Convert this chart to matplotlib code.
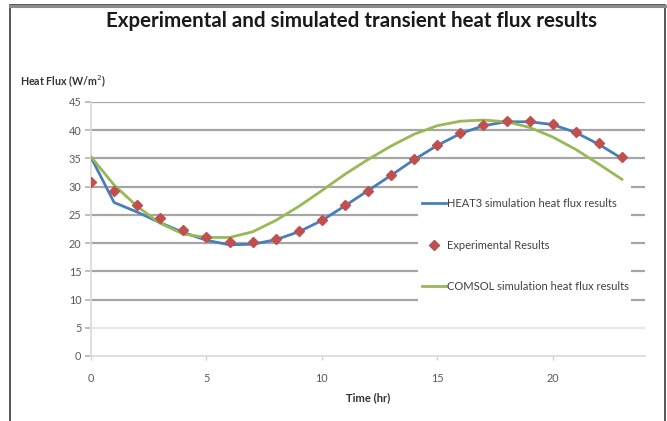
import matplotlib
matplotlib.use('Agg')
import matplotlib.pyplot as plt
from matplotlib.patches import Rectangle

plt.rcParams['font.family'] = ['Lato', 'DejaVu Sans']

hours = list(range(24))
heat3 = [35.2, 27.2, 25.5, 23.6, 21.9, 20.5, 19.7, 19.8, 20.6, 22.0, 24.0, 26.6,
         29.3, 32.0, 34.8, 37.3, 39.4, 40.8, 41.5, 41.5, 41.0, 39.6, 37.5, 35.0]
experimental = [30.8, 29.2, 26.8, 24.4, 22.4, 21.0, 20.2, 20.2, 20.8, 22.2, 24.1, 26.7,
                29.3, 32.1, 34.9, 37.4, 39.5, 40.9, 41.7, 41.7, 41.1, 39.7, 37.7, 35.3]
comsol = [35.3, 30.3, 26.5, 23.5, 21.6, 21.0, 21.0, 22.0, 24.0, 26.5, 29.3, 32.2,
          34.8, 37.2, 39.3, 40.8, 41.6, 41.8, 41.5, 40.5, 38.8, 36.6, 34.0, 31.3]

fig = plt.figure(figsize=(6.67, 4.21), dpi=100)
ax = fig.add_axes([91 / 667, 65 / 421, 554 / 667, 254 / 421])

# outer frame of the chart area
fig.add_artist(Rectangle((10 / 667, -0.1), 655 / 667, 1.1 - 5.5 / 421, transform=fig.transFigure,
                         fill=False, edgecolor='#3a3a3a', lw=1.2))
fig.add_artist(plt.Line2D([10 / 667, 665 / 667], [1 - 5.5 / 421] * 2, transform=fig.transFigure,
                          color='#8c8c8c', lw=2.2))

ax.plot(hours, heat3, color='#4a7ebb', lw=2.0, label='HEAT3 simulation heat flux results', zorder=3)
ax.plot(hours, experimental, ls='none', marker='D', ms=5, color='#c0504d', mec='#c0504d',
        label='Experimental Results', zorder=4)
ax.plot(hours, comsol, color='#98b954', lw=2.0, label='COMSOL simulation heat flux results', zorder=3)

ax.set_xlim(0, 24)
ax.set_ylim(0, 45)
ax.set_xticks([0, 5, 10, 15, 20])
ax.set_yticks(range(0, 50, 5))
ax.set_axisbelow(True)
ax.yaxis.grid(True, color='#a6a6a6', lw=1.6)
ax.get_ygridlines()[1].set_color('#e8e8e8')
ax.get_ygridlines()[0].set_visible(False)

for side in ['top', 'right']:
    ax.spines[side].set_visible(False)
ax.spines['left'].set_color('#d9d9d9')
ax.spines['bottom'].set_color('#d9d9d9')
ax.spines['left'].set_linewidth(1.2)
ax.spines['bottom'].set_linewidth(1.2)

ax.tick_params(axis='y', length=4, width=1.4, color='#bfbfbf', pad=3, labelsize=7.8, labelcolor='#595959')
ax.tick_params(axis='x', length=3, width=1.0, color='#d0d0d0', pad=9, labelsize=7.8, labelcolor='#595959')

# white box behind the legend
ax.add_patch(Rectangle((0.590, 0.201), 0.385, 0.488, transform=ax.transAxes,
                       facecolor='white', edgecolor='none', zorder=1))
leg = ax.legend(loc='center left', bbox_to_anchor=(0.587, 0.437), frameon=False, fontsize=8.0,
                borderpad=0, handlelength=2.2, handletextpad=0.05, labelspacing=2.75, numpoints=1)
for t in leg.get_texts():
    t.set_color('#404040')

fig.text(351 / 667, 1 - 21 / 421, 'Experimental and simulated transient heat flux results',
         ha='center', va='center', fontsize=14.8, fontweight='bold', color='#1a1a1a')
fig.text(20 / 667, 1 - 81 / 421, 'Heat Flux (W/m$^2$)', ha='left', va='center',
         fontsize=7.7, fontweight='bold', color='#333333')
fig.text(368 / 667, 1 - 398 / 421, 'Time (hr)', ha='center', va='center',
         fontsize=8, fontweight='bold', color='#333333')

fig.savefig('out.png', dpi=100)
